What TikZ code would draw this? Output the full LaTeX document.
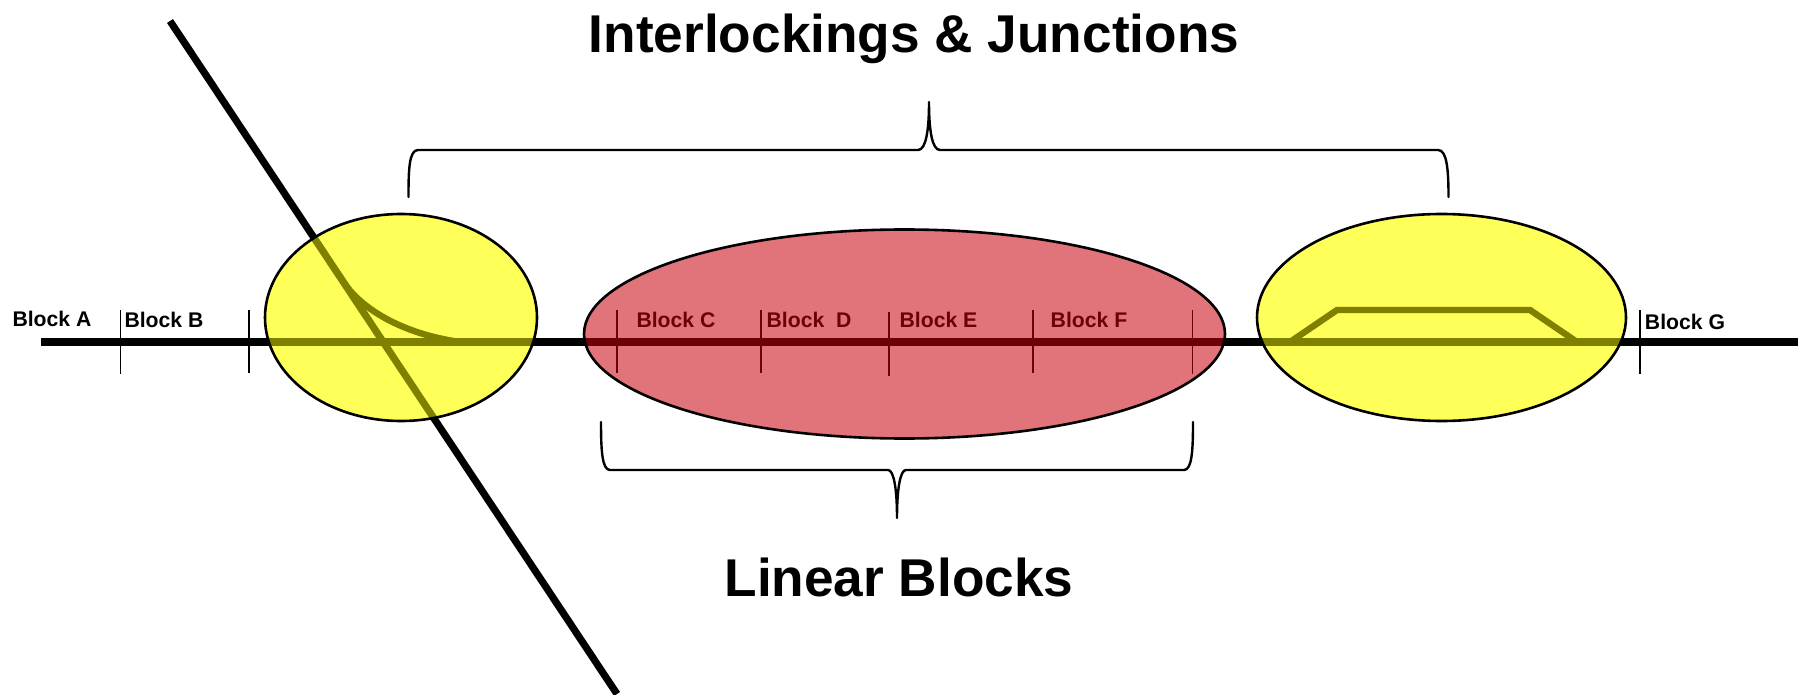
\documentclass[tikz,border=0pt]{standalone}
\usepackage{fontspec}
\setmainfont{Liberation Sans}
\definecolor{yellowfill}{RGB}{255,255,0}
\definecolor{yellowtint}{RGB}{255,255,180}
\definecolor{redfill}{RGB}{200,0,12}
\tikzset{
  x=0.5pt,y=-0.5pt,
  track/.style={line width=3.6pt,black},
  branch/.style={line width=3.2pt,black,line join=miter},
  tick/.style={line width=0.9pt,black},
  brace/.style={line width=1.2pt,black,line join=round,line cap=round},
  blocklabel/.style={inner sep=0pt,font=\fontsize{10.6pt}{12pt}\selectfont\bfseries},
  title/.style={inner sep=0pt,font=\fontsize{26.6pt}{30pt}\selectfont\bfseries},
  yellowzone/.style={fill=yellowfill,fill opacity=0.5},
  yellowglaze/.style={fill=yellowtint,blend mode=multiply},
  redzone/.style={fill=redfill,fill opacity=0.55},
  zoneoutline/.style={draw=black,line width=1.3pt}
}
\begin{document}
\begin{tikzpicture}
\useasboundingbox (0,0) rectangle (1798,695);
% tracks
\coordinate (mainW) at (41,342);
\coordinate (mainE) at (1798,342);
\coordinate (diagN) at (170,21);
\coordinate (diagS) at (617,694);
\draw[track] (mainW) -- (mainE);
\draw[track] (diagN) -- (diagS);
\draw[branch] (344,283) .. controls (366,314) and (410,335) .. (460,342);
\draw[branch] (1290,342) -- (1337,310) -- (1530,310) -- (1577,342);
% ticks
\foreach \tx/\ya/\yb in {120.5/310/374,249/310/373,617/310/373,761/310/373,889/312/376,1033/310/373,1192.5/310/374,1640/310/374}
  \draw[tick] (\tx,\ya) -- (\tx,\yb);
% labels
\node[blocklabel] (blockA) at (52,319) {Block A};
\node[blocklabel] (blockB) at (164,320) {Block B};
\node[blocklabel] (blockC) at (676,320) {Block C};
\node[blocklabel] (blockD) at (809,320) {Block\ \ D};
\node[blocklabel] (blockE) at (938.5,320) {Block E};
\node[blocklabel] (blockF) at (1089,320) {Block F};
\node[blocklabel] (blockG) at (1685,322) {Block G};
\node[title] (titleTop) at (914,39) {Interlockings \& Junctions};
\node[title] (titleBottom) at (899,577) {Linear Blocks};
% zones
\path[yellowzone] (401,317.5) ellipse [x radius=136,y radius=103.5];
\path[yellowglaze] (401,317.5) ellipse [x radius=136,y radius=103.5];
\path[zoneoutline] (401,317.5) ellipse [x radius=136,y radius=103.5];
\path[yellowzone] (1441.5,317.5) ellipse [x radius=184.5,y radius=103.5];
\path[yellowglaze] (1441.5,317.5) ellipse [x radius=184.5,y radius=103.5];
\path[zoneoutline] (1441.5,317.5) ellipse [x radius=184.5,y radius=103.5];
\path[redzone] (904.5,334) ellipse [x radius=320.5,y radius=104.5];
\path[zoneoutline] (904.5,334) ellipse [x radius=320.5,y radius=104.5];
% braces
\draw[brace] (408.5,197) .. controls (408.5,170) and (409,150) .. (418,150)
  -- (918,150) .. controls (926,150) and (929,130) .. (929,102)
  .. controls (929,130) and (932,150) .. (940,150)
  -- (1438,150) .. controls (1447,150) and (1448.5,170) .. (1448.5,197);
\draw[brace] (601,422) .. controls (601,450) and (602,470) .. (610,470)
  -- (888,470) .. controls (894,470) and (897,490) .. (897,518)
  .. controls (897,490) and (900,470) .. (906,470)
  -- (1184,470) .. controls (1192,470) and (1193,450) .. (1193,422);
\end{tikzpicture}
\end{document}
